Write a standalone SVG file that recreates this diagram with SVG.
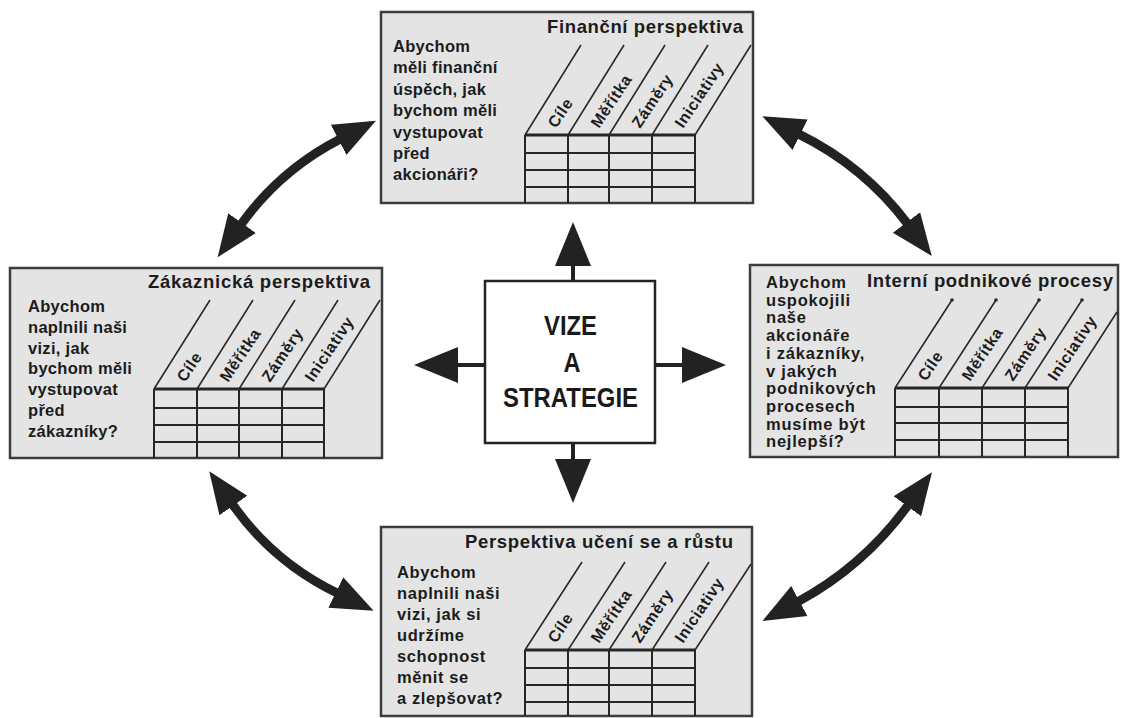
<svg xmlns="http://www.w3.org/2000/svg" width="1122" height="718" viewBox="0 0 1122 718">
<style>
.box{fill:#e4e4e4;stroke:#3c3c3c;stroke-width:2.5}
.cbox{fill:#ffffff;stroke:#222;stroke-width:2.5}
.t{font-family:"Liberation Sans",Arial,sans-serif;font-weight:bold;fill:#1c1c1c}
.title{font-size:18.5px}
.q{font-size:16.5px;letter-spacing:0.3px}
.col{font-size:16px;letter-spacing:0.6px}
.ctext{font-size:27px;text-anchor:middle;fill:#1a1a1a}
.grid{stroke:#262626;stroke-width:2;fill:none}
.gtop{stroke:#262626;stroke-width:3;fill:none}
.diag{stroke:#2a2a2a;stroke-width:1.6;fill:none}
.dot{fill:#2a2a2a}
.conn{stroke:#222;stroke-width:9;fill:none}
.cstem{stroke:#222;stroke-width:4;fill:none}
</style>
<defs>
<marker id="bighead" markerUnits="userSpaceOnUse" viewBox="0 -18 42 36" refX="2" refY="0" markerWidth="42" markerHeight="36" orient="auto-start-reverse">
<path d="M0,-17 L42,0 L0,17 Z" fill="#222"/>
</marker>
<marker id="chead" markerUnits="userSpaceOnUse" viewBox="0 -19 45 38" refX="1" refY="0" markerWidth="45" markerHeight="38" orient="auto">
<path d="M0,-18 L44,0 L0,18 Z" fill="#222"/>
</marker>
</defs>

<g id="connectors">
<path class="conn" d="M240.9,224.7 Q280,170 340.4,139" marker-start="url(#bighead)" marker-end="url(#bighead)"/>
<path class="conn" d="M798.3,133.9 Q864,166 907.7,224" marker-start="url(#bighead)" marker-end="url(#bighead)"/>
<path class="conn" d="M232.2,503.9 Q273,562 337.6,593.3" marker-start="url(#bighead)" marker-end="url(#bighead)"/>
<path class="conn" d="M908.5,504.6 Q864,566 797.6,601.9" marker-start="url(#bighead)" marker-end="url(#bighead)"/>
<path class="cstem" d="M573,281 V265" marker-end="url(#chead)"/>
<path class="cstem" d="M573,443 V460" marker-end="url(#chead)"/>
<path class="cstem" d="M485,365 H457" marker-end="url(#chead)"/>
<path class="cstem" d="M655,365 H683" marker-end="url(#chead)"/>
</g>

<g id="vize">
<rect class="cbox" x="485" y="281" width="170" height="162"/>
<text class="t ctext" x="570.5" y="335" textLength="53" lengthAdjust="spacingAndGlyphs">VIZE</text>
<text class="t ctext" x="572" y="372" textLength="17" lengthAdjust="spacingAndGlyphs">A</text>
<text class="t ctext" x="570.5" y="407" textLength="135" lengthAdjust="spacingAndGlyphs">STRATEGIE</text>
</g>

<g id="financni">
<rect class="box" x="381" y="12" width="372" height="191"/>
<text class="t title" x="547" y="33" textLength="196" lengthAdjust="spacing">Finanční perspektiva</text>
<text class="t q">
<tspan x="393" y="52">Abychom</tspan>
<tspan x="393" y="73.4">měli finanční</tspan>
<tspan x="393" y="94.8">úspěch, jak</tspan>
<tspan x="393" y="116.2">bychom měli</tspan>
<tspan x="393" y="137.6">vystupovat</tspan>
<tspan x="393" y="159">před</tspan>
<tspan x="393" y="180.4">akcionáři?</tspan>
</text>
<path class="diag" d="M525,135 L581,45 M568,135 L624,45 M609,135 L665,45 M652,135 L708,45 M695,135 L751,45"/>
<path class="grid" d="M525,135 V203 M568,135 V203 M609,135 V203 M652,135 V203 M695,135 V203 M525,153 H695 M525,170 H695 M525,187 H695"/>
<path class="gtop" d="M525,135 H695"/>
<text class="t col" transform="translate(556,129) rotate(-56)">Cíle</text>
<text class="t col" transform="translate(599,129) rotate(-56)">Měřítka</text>
<text class="t col" transform="translate(640,129) rotate(-56)">Záměry</text>
<text class="t col" transform="translate(683,129) rotate(-56)">Iniciativy</text>
</g>

<g id="zakaznicka">
<rect class="box" x="10" y="268" width="372" height="190"/>
<text class="t title" x="148" y="288" textLength="222" lengthAdjust="spacing">Zákaznická perspektiva</text>
<text class="t q">
<tspan x="28" y="312">Abychom</tspan>
<tspan x="28" y="332.8">naplnili naši</tspan>
<tspan x="28" y="353.6">vizi, jak</tspan>
<tspan x="28" y="374.4">bychom měli</tspan>
<tspan x="28" y="395.2">vystupovat</tspan>
<tspan x="28" y="416">před</tspan>
<tspan x="28" y="436.8">zákazníky?</tspan>
</text>
<path class="diag" d="M154,389 L210,300 M197,389 L253,300 M239,389 L295,300 M282,389 L338,300 M324,389 L380,300"/>
<path class="grid" d="M154,389 V458 M197,389 V458 M239,389 V458 M282,389 V458 M324,389 V458 M154,408 H324 M154,425 H324 M154,442 H324"/>
<path class="gtop" d="M154,389 H324"/>
<text class="t col" transform="translate(185,383) rotate(-56)">Cíle</text>
<text class="t col" transform="translate(228,383) rotate(-56)">Měřítka</text>
<text class="t col" transform="translate(270,383) rotate(-56)">Záměry</text>
<text class="t col" transform="translate(313,383) rotate(-56)">Iniciativy</text>
</g>

<g id="interni">
<rect class="box" x="750" y="265" width="368" height="192"/>
<text class="t title" x="867" y="287" textLength="246" lengthAdjust="spacing">Interní podnikové procesy</text>
<text class="t q" style="letter-spacing:0.8px">
<tspan x="766" y="288">Abychom</tspan>
<tspan x="766" y="305.7">uspokojili</tspan>
<tspan x="766" y="323.4">naše</tspan>
<tspan x="766" y="341.1">akcionáře</tspan>
<tspan x="766" y="358.8">i zákazníky,</tspan>
<tspan x="766" y="376.5">v jakých</tspan>
<tspan x="766" y="394.2">podnikových</tspan>
<tspan x="766" y="411.9">procesech</tspan>
<tspan x="766" y="429.6">musíme být</tspan>
<tspan x="766" y="447.3">nejlepší?</tspan>
</text>
<path class="diag" d="M895,388 L952,300 M939,388 L996,300 M982,388 L1039,300 M1025,388 L1082,300 M1068,388 L1117,312"/>
<circle class="dot" cx="952" cy="300" r="1.8"/>
<circle class="dot" cx="996" cy="300" r="1.8"/>
<circle class="dot" cx="1039" cy="300" r="1.8"/>
<circle class="dot" cx="1082" cy="300" r="1.8"/>
<path class="grid" d="M895,388 V457 M939,388 V457 M982,388 V457 M1025,388 V457 M1068,388 V457 M895,407 H1068 M895,423 H1068 M895,440 H1068"/>
<path class="gtop" d="M895,388 H1068"/>
<text class="t col" transform="translate(926,382) rotate(-56)">Cíle</text>
<text class="t col" transform="translate(970,382) rotate(-56)">Měřítka</text>
<text class="t col" transform="translate(1013,382) rotate(-56)">Záměry</text>
<text class="t col" transform="translate(1056,382) rotate(-56)">Iniciativy</text>
</g>

<g id="uceni">
<rect class="box" x="381" y="527" width="371" height="189"/>
<text class="t title" x="465" y="548" textLength="268" lengthAdjust="spacing">Perspektiva učení se a růstu</text>
<text class="t q" style="letter-spacing:0.6px">
<tspan x="397" y="578">Abychom</tspan>
<tspan x="397" y="599">naplnili naši</tspan>
<tspan x="397" y="620">vizi, jak si</tspan>
<tspan x="397" y="641">udržíme</tspan>
<tspan x="397" y="662">schopnost</tspan>
<tspan x="397" y="683">měnit se</tspan>
<tspan x="397" y="704">a zlepšovat?</tspan>
</text>
<path class="diag" d="M525,650 L582,562 M568,650 L625,562 M609,650 L666,562 M652,650 L709,562 M695,650 L751,564"/>
<path class="grid" d="M525,650 V716 M568,650 V716 M609,650 V716 M652,650 V716 M695,650 V716 M525,668 H695 M525,685 H695 M525,702 H695"/>
<path class="gtop" d="M525,650 H695"/>
<text class="t col" transform="translate(556,644) rotate(-56)">Cíle</text>
<text class="t col" transform="translate(599,644) rotate(-56)">Měřítka</text>
<text class="t col" transform="translate(640,644) rotate(-56)">Záměry</text>
<text class="t col" transform="translate(683,644) rotate(-56)">Iniciativy</text>
</g>
</svg>
